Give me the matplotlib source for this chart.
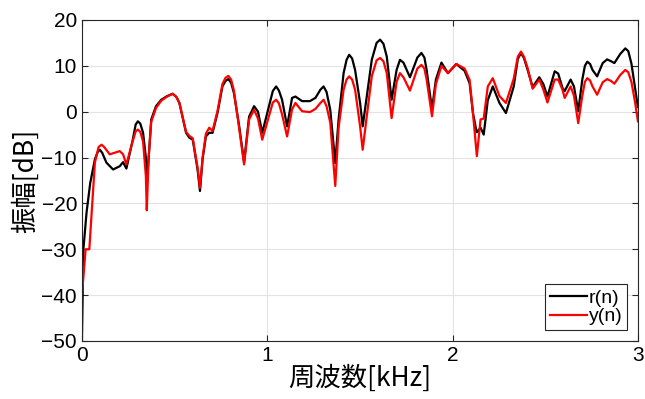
import matplotlib
matplotlib.use('Agg')
import matplotlib.pyplot as plt

plt.rcParams['font.family'] = ['Liberation Sans', 'Noto Sans CJK JP', 'DejaVu Sans']

# r(n): frequency [kHz] / amplitude [dB]
r_freq = [0.0, 0.008, 0.025, 0.045, 0.07, 0.085, 0.097, 0.11, 0.132, 0.168,
          0.204, 0.222, 0.24, 0.275, 0.29, 0.302, 0.315, 0.33, 0.345, 0.352,
          0.362, 0.374, 0.4, 0.428, 0.46, 0.49, 0.51, 0.526, 0.562, 0.58,
          0.598, 0.624, 0.637, 0.651, 0.669, 0.687, 0.705, 0.732, 0.758, 0.775,
          0.79, 0.805, 0.82, 0.848, 0.875, 0.902, 0.929, 0.95, 0.973, 1.009,
          1.03, 1.048, 1.063, 1.08, 1.107, 1.134, 1.152, 1.188, 1.23, 1.26,
          1.287, 1.304, 1.32, 1.34, 1.367, 1.385, 1.412, 1.428, 1.442, 1.458,
          1.474, 1.501, 1.515, 1.537, 1.564, 1.59, 1.609, 1.627, 1.645, 1.671,
          1.698, 1.716, 1.735, 1.77, 1.81, 1.832, 1.848, 1.86, 1.889, 1.91,
          1.94, 1.975, 2.02, 2.065, 2.092, 2.11, 2.13, 2.151, 2.168, 2.19,
          2.217, 2.253, 2.288, 2.33, 2.352, 2.369, 2.385, 2.405, 2.432, 2.468,
          2.49, 2.512, 2.551, 2.57, 2.593, 2.605, 2.637, 2.655, 2.678, 2.7,
          2.714, 2.727, 2.742, 2.755, 2.78, 2.81, 2.834, 2.855, 2.873, 2.905,
          2.932, 2.948, 2.965, 2.985, 3.0]
r_db = [-50, -30, -22, -15.5, -10.4, -8.8, -8.3, -9.0, -11.1, -12.6,
        -11.9, -11.0, -12.4, -6.0, -2.8, -2.1, -2.6, -4.6, -10.0, -15.0,
        -9.0, -1.7, 1.2, 2.6, 3.4, 3.9, 3.2, 1.9, -4.6, -5.7,
        -6.1, -12.6, -17.3, -10.4, -5.4, -4.6, -4.6, -0.2, 5.5, 6.7,
        7.1, 6.3, 4.1, -3.0, -11.0, -1.1, 1.2, 0.0, -4.6, 1.2,
        4.5, 5.5, 4.6, 2.6, -3.2, 3.0, 3.3, 2.3, 2.3, 3.0,
        4.8, 5.5, 4.3, 0.4, -11.2, -1.7, 8.4, 11.3, 12.4, 11.6,
        9.1, 1.9, -3.2, 3.3, 11.3, 15.0, 15.7, 14.8, 12.0, 2.6,
        9.1, 11.3, 10.7, 7.5, 11.8, 12.8, 11.8, 9.1, 0.5, 7.0,
        10.7, 8.4, 10.4, 8.9, 6.2, -0.3, -4.5, -3.5, -5.0, 2.5,
        5.5, 1.9, -0.3, 5.5, 11.5, 12.8, 11.7, 9.1, 5.4, 7.5,
        6.0, 3.3, 8.8, 8.3, 5.2, 4.5, 7.0, 5.5, 0.1, 7.0,
        10.0, 10.9, 10.4, 9.1, 7.7, 10.6, 11.4, 11.0, 10.6, 12.6,
        13.8, 13.2, 10.5, 5.0, 1.0]

# y(n)
y_freq = [0.0, 0.02, 0.04, 0.057, 0.07, 0.09, 0.106, 0.12, 0.15, 0.18,
          0.204, 0.222, 0.24, 0.27, 0.29, 0.302, 0.315, 0.33, 0.345, 0.35,
          0.36, 0.374, 0.4, 0.428, 0.46, 0.49, 0.51, 0.526, 0.562, 0.58,
          0.598, 0.624, 0.637, 0.651, 0.669, 0.687, 0.705, 0.732, 0.758, 0.775,
          0.79, 0.805, 0.82, 0.848, 0.875, 0.902, 0.929, 0.95, 0.973, 1.009,
          1.03, 1.048, 1.063, 1.08, 1.107, 1.134, 1.152, 1.188, 1.23, 1.26,
          1.287, 1.304, 1.32, 1.34, 1.367, 1.385, 1.412, 1.428, 1.442, 1.458,
          1.474, 1.501, 1.515, 1.537, 1.564, 1.59, 1.609, 1.627, 1.645, 1.671,
          1.698, 1.716, 1.735, 1.77, 1.81, 1.832, 1.848, 1.86, 1.889, 1.91,
          1.94, 1.975, 2.02, 2.065, 2.092, 2.11, 2.131, 2.151, 2.168, 2.19,
          2.217, 2.253, 2.288, 2.33, 2.352, 2.369, 2.385, 2.405, 2.432, 2.468,
          2.49, 2.512, 2.551, 2.57, 2.593, 2.605, 2.637, 2.655, 2.678, 2.7,
          2.714, 2.727, 2.742, 2.755, 2.78, 2.81, 2.834, 2.855, 2.873, 2.905,
          2.932, 2.948, 2.965, 2.985, 3.0]
y_db = [-40, -30, -30, -19.5, -11.1, -7.7, -7.2, -7.7, -9.3, -8.9,
        -8.6, -9.3, -11.5, -7.0, -4.3, -3.9, -4.4, -6.5, -14.0, -21.5,
        -10.0, -2.2, 0.8, 2.4, 3.3, 3.9, 3.2, 1.9, -4.4, -5.3,
        -5.8, -12.2, -16.6, -10.0, -4.8, -3.5, -4.2, 0.2, 6.0, 7.4,
        7.8, 7.0, 4.6, -3.5, -11.5, -1.7, 0.4, -1.5, -6.1, -1.0,
        2.0, 2.6, 1.8, -0.6, -5.4, 0.5, 1.9, 0.1, -0.1, 0.6,
        1.9, 2.6, 1.2, -2.4, -16.2, -3.5, 4.8, 7.0, 7.7, 7.0,
        4.8, -3.2, -8.3, -1.0, 7.7, 11.2, 11.7, 11.0, 8.4, -1.4,
        6.5, 8.4, 7.5, 4.6, 9.4, 10.2, 9.4, 7.0, -1.0, 6.0,
        10.0, 8.4, 10.4, 9.4, 6.9, -0.3, -9.7, -1.7, -1.5, 5.5,
        7.3, 3.4, 1.9, 7.2, 12.0, 13.1, 12.0, 9.5, 5.0, 7.0,
        4.8, 2.0, 7.0, 7.0, 4.8, 3.0, 5.5, 3.5, -2.5, 3.5,
        6.5, 7.3, 6.8, 5.5, 3.7, 6.4, 7.1, 6.7, 6.1, 8.0,
        9.1, 8.6, 6.5, 2.0, -2.1]

x_ticks = [0, 1, 2, 3]
y_ticks = [-50, -40, -30, -20, -10, 0, 10, 20]
y_ticklabels = ['\u221250', '\u221240', '\u221230', '\u221220', '\u221210', '0', '10', '20']

fig = plt.figure(figsize=(6.45, 3.99), dpi=100)
ax = fig.add_axes([0.127, 0.1454, 0.862, 0.8046])

ax.plot(r_freq, r_db, color='black', linewidth=1.6, label='r(n)', solid_joinstyle='round')
ax.plot(y_freq, y_db, color='red', linewidth=1.6, label='y(n)', solid_joinstyle='round')

ax.set_xlim(0, 3)
ax.set_ylim(-50, 20)
ax.set_xticks(x_ticks)
ax.set_yticks(y_ticks)
ax.set_yticklabels(y_ticklabels)
ax.tick_params(direction='in', top=True, right=True, labelsize=15, color='#262626', length=4)
ax.grid(True, color='#e3e3e3', linewidth=0.8)
ax.set_axisbelow(True)
for s in ax.spines.values():
    s.set_color('#262626')
    s.set_linewidth(0.8)

ax.set_xlabel('周波数[kHz]', fontsize=19, labelpad=0, family=['Noto Sans CJK JP', 'DejaVu Sans'])
ax.set_ylabel('振幅[dB]', fontsize=19, labelpad=2, family=['Noto Sans CJK JP', 'DejaVu Sans'])

leg = ax.legend(loc='lower right', fontsize=14, fancybox=False, framealpha=1, edgecolor='#262626',
                handlelength=1.9, handletextpad=0.1, borderpad=0.25, labelspacing=0.05,
                borderaxespad=0.55)
leg.get_frame().set_linewidth(0.8)

plt.savefig('out.png', dpi=100, facecolor='white')
plt.close()
